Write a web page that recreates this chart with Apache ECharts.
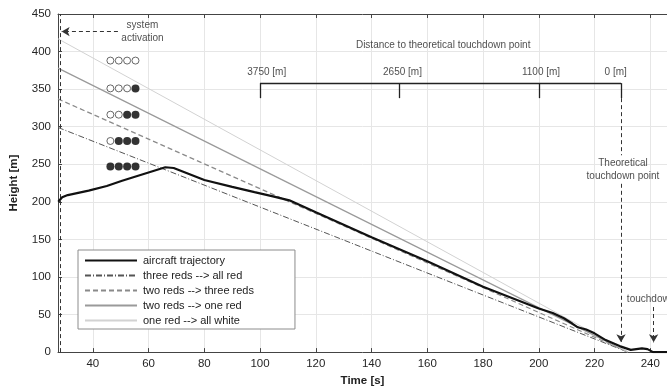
<!DOCTYPE html>
<html>
<head>
<meta charset="utf-8">
<script src="https://cdn.jsdelivr.net/npm/echarts@6/dist/echarts.min.js"></script>
<style>
  html, body { margin: 0; padding: 0; background: #fff; }
  #chart { width: 667px; height: 392px; }
</style>
</head>
<body>
<div id="chart"></div>
<script>
// time axis ticks
const xTicks = [40, 60, 80, 100, 120, 140, 160, 180, 200, 220, 240];

// aircraft trajectory (time [s], height [m])
const trajT = [27.6, 29, 31, 38.5, 45, 50.5, 66, 69, 80, 90, 98, 105, 110.5, 120, 140, 160, 180, 200, 205, 209, 212, 214, 217, 220, 224, 229, 233, 235, 237, 239, 241, 246];
const trajH = [200, 206, 209, 215, 221, 228, 246, 245, 229, 220, 213, 207, 202, 186, 153, 121, 87, 58, 52, 45, 38, 33, 30, 25, 16, 8, 3, 4, 5, 4, 0, 0];

// glide lines, all meeting the ground at glideEndT
const glideNames = ['three reds --> all red', 'two reds --> three reds', 'two reds --> one red', 'one red --> all white'];
const glideStartT = 27.5;
const glideEndT = 232;
const glideStartH = [299, 337, 378, 417];

// PAPI lamps: 4 lamps per row, number of reds per row
const lampT = [46.3, 49.3, 52.3, 55.3];
const lampH = [388, 351, 316, 281, 247];
const lampReds = [0, 1, 2, 3, 4];

// distance bracket
const bracketT = [100, 150, 200, 229.5];
const bracketLabelT = [102.4, 151.1, 200.8, 227.6];
const bracketLabels = ['3750 [m]', '2650 [m]', '1100 [m]', '0 [m]'];

const chart = echarts.init(document.getElementById('chart'));

const hollow = [], filled = [];
lampH.forEach((h, r) => {
  lampT.forEach((t, i) => {
    if (i >= lampT.length - lampReds[r]) filled.push([t, h]);
    else hollow.push([t, h]);
  });
});

const glideStyles = [
  { color: '#555', width: 1, type: [6, 2, 1, 2] },
  { color: '#8a8a8a', width: 1.2, type: [5, 3] },
  { color: '#9a9a9a', width: 1.2, type: 'solid' },
  { color: '#d2d2d2', width: 1, type: 'solid' }
];

const dashed = { color: '#333', width: 1, type: [4, 3] };
const solid = { color: '#222', width: 1.3, type: 'solid' };
function seg(a, b, style, arrow) {
  return [
    { coord: a, symbol: 'none', lineStyle: style },
    { coord: b, symbol: arrow ? 'arrow' : 'none', lineStyle: style }
  ];
}

const marks = [
  seg([28.3, 0], [28.3, 450], dashed, false),
  seg([49, 426.6], [28.8, 426.6], dashed, true),
  seg([bracketT[3], 338], [bracketT[3], 262], dashed, false),
  seg([bracketT[3], 224], [bracketT[3], 13], dashed, true),
  seg([241.2, 60], [241.2, 13], dashed, true),
  seg([bracketT[0], 358], [bracketT[3], 358], solid, false)
];
bracketT.forEach(t => marks.push(seg([t, 358], [t, 338], solid, false)));

const notes = [
  { name: 'system', value: [57.8, 435] },
  { name: 'activation', value: [57.8, 418] },
  { name: 'Distance to theoretical touchdown point', value: [165.7, 409] },
  { name: 'Theoretical', value: [230.2, 251] },
  { name: 'touchdown point', value: [230.2, 234] },
  { name: 'touchdown', value: [231.6, 70], label: { align: 'left' } }
];
bracketLabels.forEach((s, i) => notes.push({ name: s, value: [bracketLabelT[i], 372.5] }));

const font = 'Liberation Sans, Arial, sans-serif';

const series = [
  {
    name: 'aircraft trajectory', type: 'line', symbol: 'none', z: 5,
    data: trajT.map((t, i) => [t, trajH[i]]),
    lineStyle: { color: '#111', width: 2.2 }, itemStyle: { color: '#111' }
  }
];
glideNames.forEach((n, i) => {
  series.push({
    name: n, type: 'line', symbol: 'none', z: 3,
    data: [[glideStartT, glideStartH[i]], [glideEndT, 0]],
    lineStyle: glideStyles[i], itemStyle: { color: glideStyles[i].color }
  });
});
series.push({
  type: 'scatter', symbol: 'circle', symbolSize: 7, data: hollow, silent: true,
  itemStyle: { color: '#fff', borderColor: '#444', borderWidth: 1 }
});
series.push({
  type: 'scatter', symbol: 'circle', symbolSize: 8, data: filled, silent: true,
  itemStyle: { color: '#000' }
});
series.push({
  type: 'scatter', symbolSize: 0, data: notes, silent: true, z: 6,
  label: {
    show: true, position: 'inside', formatter: '{b}',
    color: '#222', fontSize: 10, fontFamily: font
  },
  markLine: { silent: true, symbolSize: [7, 8], label: { show: false }, data: marks, animation: false }
});

chart.setOption({
  animation: false,
  textStyle: { fontFamily: font },
  grid: { left: 58, right: 0, top: 14, bottom: 37 },
  legend: {
    data: ['aircraft trajectory'].concat(glideNames),
    orient: 'vertical', left: 78, top: 250,
    padding: [5, 41, 3, 6], itemGap: 4, itemWidth: 52, itemHeight: 10,
    itemStyle: { opacity: 0 },
    backgroundColor: '#fff', borderColor: '#8c8c8c', borderWidth: 1,
    textStyle: { fontSize: 11, color: '#222', fontFamily: font, padding: [0, 0, 0, 1] }
  },
  xAxis: [
    {
      type: 'value', min: 27.5, max: 246,
      name: 'Time [s]', nameLocation: 'middle', nameGap: 21,
      nameTextStyle: { fontWeight: 'bold', fontSize: 11.5, color: '#222' },
      axisLine: { lineStyle: { color: '#444' } },
      axisTick: { inside: true, length: 4, customValues: xTicks, lineStyle: { color: '#444' } },
      axisLabel: { customValues: xTicks, color: '#262626', fontSize: 11.5, margin: 6 },
      splitLine: { show: true, lineStyle: { color: '#e6e6e6' } }
    },
    {
      type: 'value', min: 27.5, max: 246, position: 'top',
      axisLine: { lineStyle: { color: '#444' } },
      axisTick: { inside: true, length: 4, customValues: xTicks, lineStyle: { color: '#444' } },
      axisLabel: { show: false },
      splitLine: { show: false }
    }
  ],
  yAxis: {
    type: 'value', min: 0, max: 450, interval: 50,
    name: 'Height [m]', nameLocation: 'middle', nameGap: 38,
    nameTextStyle: { fontWeight: 'bold', fontSize: 11.5, color: '#222' },
    axisLine: { show: true, lineStyle: { color: '#444' } },
    axisTick: { show: true, inside: true, length: 4, lineStyle: { color: '#444' } },
    axisLabel: { color: '#262626', fontSize: 11.5, margin: 7 },
    splitLine: { show: true, lineStyle: { color: '#e6e6e6' } }
  },
  series: series
});
</script>
</body>
</html>
